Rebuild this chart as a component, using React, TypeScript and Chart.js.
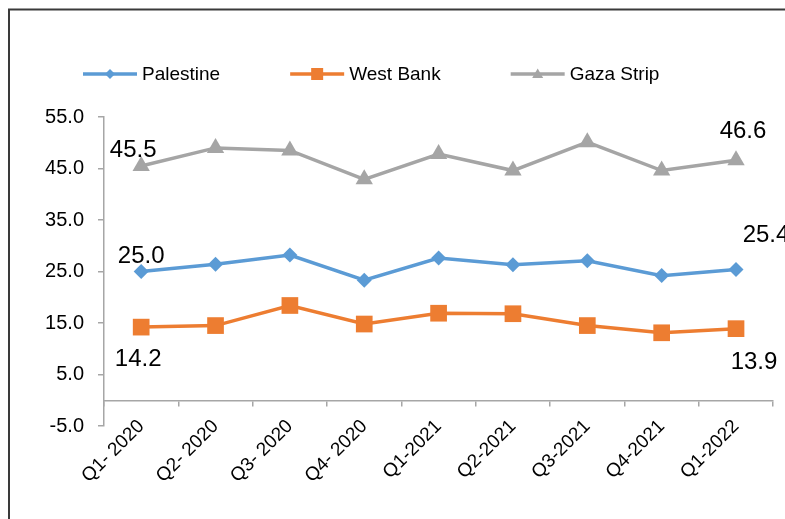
import { useEffect, useRef } from "react";
import { Chart, registerables } from "chart.js";

Chart.register(...registerables);

// Quarterly values per region
const quarters = [
  "Q1- 2020",
  "Q2- 2020",
  "Q3- 2020",
  "Q4- 2020",
  "Q1-2021",
  "Q2-2021",
  "Q3-2021",
  "Q4-2021",
  "Q1-2022",
];
const palestine = [25.0, 26.4, 28.2, 23.3, 27.6, 26.3, 27.1, 24.2, 25.4];
const westBank = [14.2, 14.5, 18.4, 14.8, 16.9, 16.8, 14.5, 13.1, 13.9];
const gazaStrip = [45.5, 49.0, 48.5, 42.9, 47.8, 44.6, 50.1, 44.6, 46.6];
const seriesNames = ["Palestine", "West Bank", "Gaza Strip"];
const yMin = -5;
const yMax = 55;
const yStep = 10;

const FONT = '"Liberation Sans", Arial, Helvetica, sans-serif';
const COLORS = ["#5B9BD5", "#ED7D31", "#A5A5A5"];
const AXIS_COLOR = "#A6A6A6";

// Value labels on the first and last points of each line (offsets from the point)
const valueLabelOffsets: { [k: number]: { first: [number, number]; last: [number, number] } } = {
  0: { first: [0, -9], last: [30, -27] },
  1: { first: [-3, 39], last: [18, 40] },
  2: { first: [-8, -9], last: [7, -22] },
};

const framePlugin = {
  id: "frame",
  beforeDraw(chart: Chart) {
    const ctx = chart.ctx;
    ctx.save();
    ctx.fillStyle = "#ffffff";
    ctx.fillRect(0, 0, chart.width, chart.height);
    ctx.strokeStyle = "#3a3a3a";
    ctx.lineWidth = 2;
    ctx.strokeRect(9, 9.5, chart.width + 20, chart.height + 20);
    ctx.restore();
  },
};

function drawMarker(ctx: CanvasRenderingContext2D, style: string, x: number, y: number, s: number) {
  ctx.beginPath();
  if (style === "rectRot") {
    ctx.moveTo(x, y - s);
    ctx.lineTo(x + s, y);
    ctx.lineTo(x, y + s);
    ctx.lineTo(x - s, y);
  } else if (style === "rect") {
    ctx.rect(x - s, y - s, 2 * s, 2 * s);
  } else {
    ctx.moveTo(x, y - s * 1.1);
    ctx.lineTo(x + s * 1.1, y + s * 0.8);
    ctx.lineTo(x - s * 1.1, y + s * 0.8);
  }
  ctx.closePath();
  ctx.fill();
}

const legendPlugin = {
  id: "lineLegend",
  afterDraw(chart: Chart) {
    const ctx = chart.ctx;
    const styles = ["rectRot", "rect", "triangle"];
    const sizes = [5, 6, 5];
    ctx.save();
    ctx.font = `19px ${FONT}`;
    ctx.textBaseline = "middle";
    let x = 83;
    const y = 74;
    seriesNames.forEach((name, i) => {
      ctx.strokeStyle = COLORS[i];
      ctx.fillStyle = COLORS[i];
      ctx.lineWidth = 3.5;
      ctx.beginPath();
      ctx.moveTo(x, y);
      ctx.lineTo(x + 54, y);
      ctx.stroke();
      drawMarker(ctx, styles[i], x + 27, y, sizes[i]);
      ctx.fillStyle = "#000000";
      ctx.fillText(name, x + 59, y + 1);
      x += 59 + ctx.measureText(name).width + 70;
    });
    ctx.restore();
  },
};

const valueLabelPlugin = {
  id: "valueLabels",
  afterDatasetsDraw(chart: Chart) {
    const ctx = chart.ctx;
    ctx.save();
    ctx.font = `24px ${FONT}`;
    ctx.fillStyle = "#000000";
    ctx.textAlign = "center";
    ctx.textBaseline = "alphabetic";
    chart.data.datasets.forEach((ds, i) => {
      const meta = chart.getDatasetMeta(i);
      const values = ds.data as number[];
      const last = values.length - 1;
      const off = valueLabelOffsets[i];
      const pts: [number, [number, number]][] = [
        [0, off.first],
        [last, off.last],
      ];
      pts.forEach(([idx, [dx, dy]]) => {
        const p = meta.data[idx];
        ctx.fillText(values[idx].toFixed(1), p.x + dx, p.y + dy);
      });
    });
    ctx.restore();
  },
};

export default function App() {
  const canvasRef = useRef<HTMLCanvasElement | null>(null);

  useEffect(() => {
    if (!canvasRef.current) return;
    const series = [palestine, westBank, gazaStrip];
    const pointStyles = ["rectRot", "rect", "triangle"];
    const radii = [7.5, 11.8, 10];
    const chart = new Chart(canvasRef.current, {
      type: "line",
      data: {
        labels: quarters,
        datasets: series.map((values, i) => ({
          label: seriesNames[i],
          data: values,
          borderColor: COLORS[i],
          backgroundColor: COLORS[i],
          pointBackgroundColor: COLORS[i],
          pointBorderColor: COLORS[i],
          pointBorderWidth: 0,
          borderWidth: 3.5,
          pointStyle: pointStyles[i] as any,
          pointRadius: radii[i],
          tension: 0,
          clip: false as any,
        })),
      },
      options: {
        animation: false,
        responsive: true,
        maintainAspectRatio: false,
        layout: { padding: { top: 117, right: 11, left: 0, bottom: 93 } },
        plugins: {
          legend: { display: false },
          tooltip: { enabled: false },
        },
        scales: {
          x: {
            type: "category",
            position: { y: 0 } as any,
            offset: true,
            grid: {
              offset: true,
              drawOnChartArea: false,
              drawTicks: true,
              tickLength: 5,
              color: AXIS_COLOR,
              lineWidth: 1.5,
            },
            border: { color: AXIS_COLOR, width: 1.5 },
            ticks: {
              autoSkip: false,
              minRotation: 45,
              maxRotation: 45,
              padding: 10,
              color: "#000000",
              font: { family: FONT, size: 19 },
            },
          },
          y: {
            min: yMin,
            max: yMax,
            afterFit: (scale: any) => {
              scale.width = 104;
            },
            grid: {
              drawOnChartArea: false,
              drawTicks: true,
              tickLength: 6,
              color: AXIS_COLOR,
              lineWidth: 1.5,
            },
            border: { color: AXIS_COLOR, width: 1.5 },
            ticks: {
              stepSize: yStep,
              padding: 14,
              color: "#000000",
              font: { family: FONT, size: 20 },
              callback: (v: any) => Number(v).toFixed(1),
            },
          },
        },
      },
      plugins: [framePlugin, legendPlugin, valueLabelPlugin],
    });
    return () => chart.destroy();
  }, []);

  return (
    <div style={{ position: "absolute", left: 0, top: 0, width: 785, height: 519 }}>
      <canvas ref={canvasRef} />
    </div>
  );
}
